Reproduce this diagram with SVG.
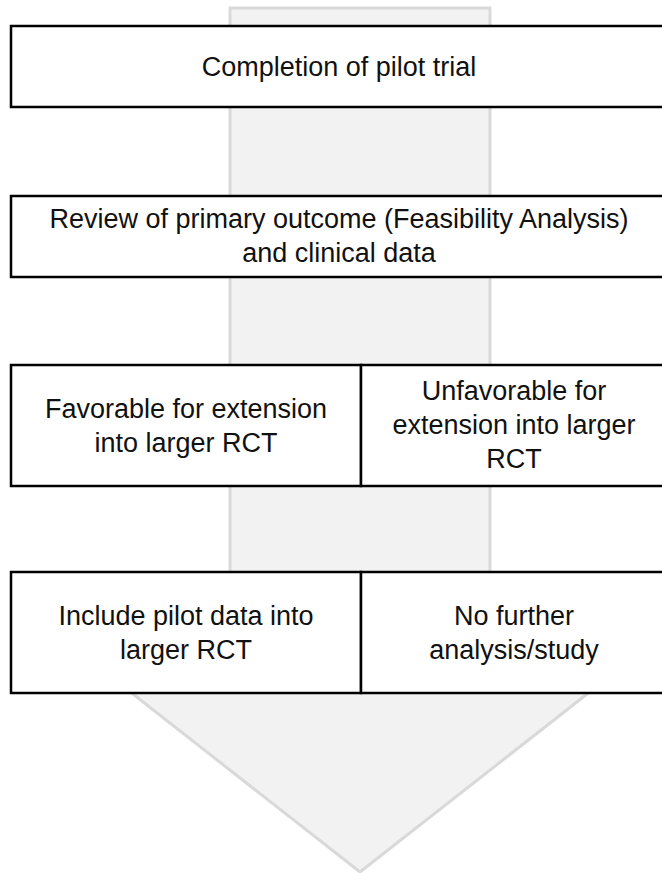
<svg xmlns="http://www.w3.org/2000/svg" width="662" height="873" viewBox="0 0 662 873">
  <style>
    .box { fill: #ffffff; stroke: #000000; stroke-width: 2.5; }
    .lbl { font-family: "Liberation Sans", Arial, sans-serif; font-size: 27px; fill: #111111; text-anchor: middle; }
    .arrow { fill: #f2f2f2; stroke: #d9d9d9; stroke-width: 3; stroke-linejoin: miter; }
  </style>
  <rect width="662" height="873" fill="#ffffff"/>
  <g id="flow-arrow">
    <path class="arrow" d="M230,8 L490,8 L490,640 L656,640 L360,872 L64,640 L230,640 Z"/>
  </g>
  <g id="node-completion">
    <rect class="box" x="11" y="26" width="657" height="81"/>
    <text class="lbl" x="339" y="76">Completion of pilot trial</text>
  </g>
  <g id="node-review">
    <rect class="box" x="11" y="196" width="657" height="81"/>
    <text class="lbl" x="339" y="228">Review of primary outcome (Feasibility Analysis)</text>
    <text class="lbl" x="339" y="262">and clinical data</text>
  </g>
  <g id="node-favorable">
    <rect class="box" x="11" y="365" width="350" height="121"/>
    <text class="lbl" x="186" y="418">Favorable for extension</text>
    <text class="lbl" x="186" y="452">into larger RCT</text>
  </g>
  <g id="node-unfavorable">
    <rect class="box" x="361" y="365" width="307" height="121"/>
    <text class="lbl" x="514" y="400">Unfavorable for</text>
    <text class="lbl" x="514" y="434">extension into larger</text>
    <text class="lbl" x="514" y="468">RCT</text>
  </g>
  <g id="node-include">
    <rect class="box" x="11" y="572" width="350" height="121"/>
    <text class="lbl" x="186" y="625">Include pilot data into</text>
    <text class="lbl" x="186" y="659">larger RCT</text>
  </g>
  <g id="node-nofurther">
    <rect class="box" x="361" y="572" width="307" height="121"/>
    <text class="lbl" x="514" y="625">No further</text>
    <text class="lbl" x="514" y="659">analysis/study</text>
  </g>
</svg>
